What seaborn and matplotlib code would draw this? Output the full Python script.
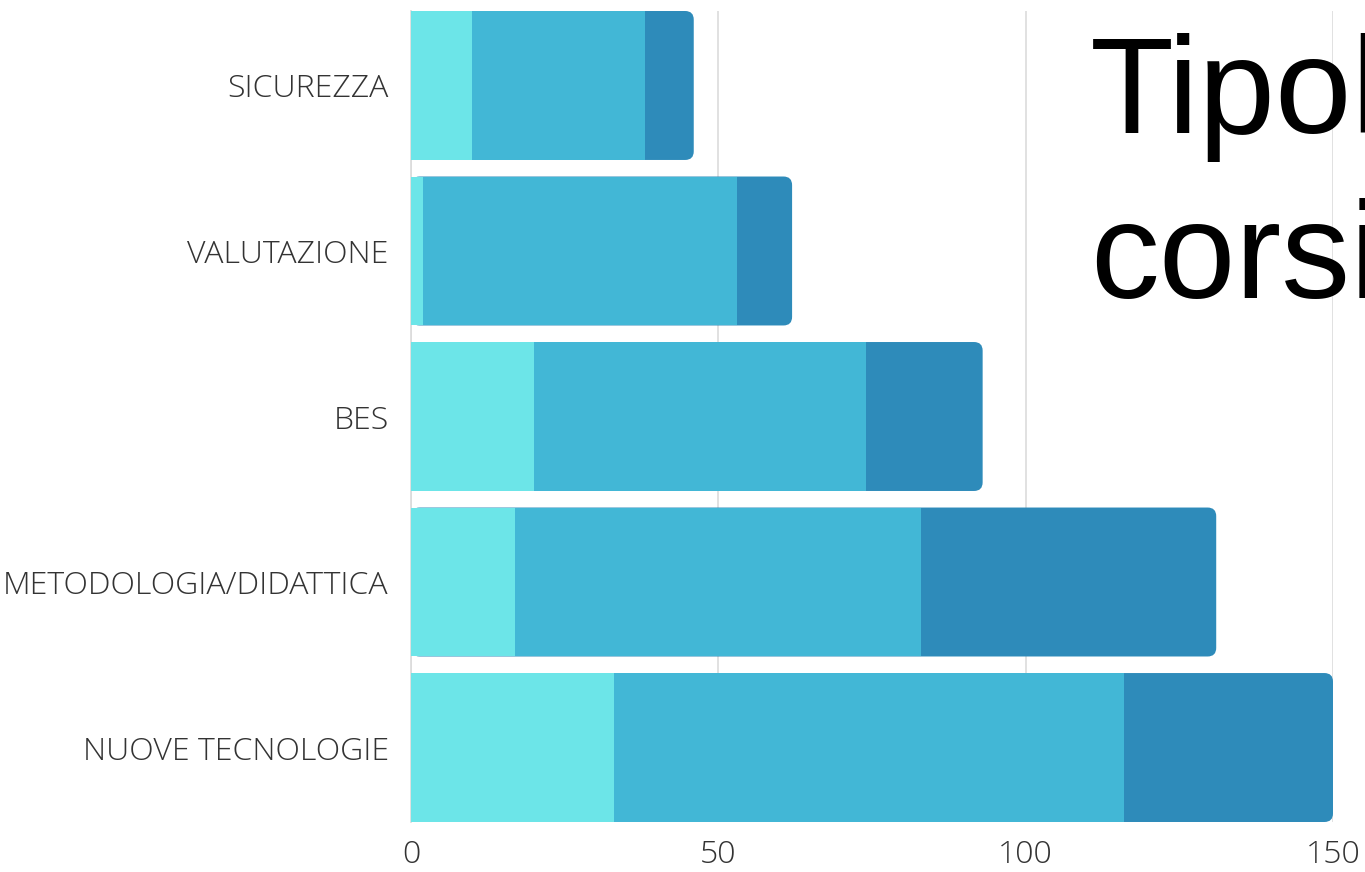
import matplotlib
matplotlib.use("Agg")
import matplotlib.pyplot as plt
import seaborn as sns
from matplotlib.patches import FancyBboxPatch

# dati
categorie = ['SICUREZZA', 'VALUTAZIONE', 'BES', 'METODOLOGIA/DIDATTICA', 'NUOVE TECNOLOGIE']
serie_1 = [10, 2, 20, 17, 33]
serie_2 = [28, 51, 54, 66, 83]
serie_3 = [8, 9, 19, 48, 34]
tick_x = [0, 50, 100, 150]

colori = ['#6ce5e8', '#42b7d6', '#2e8bba']

cum_1 = serie_1
cum_2 = [a + b for a, b in zip(serie_1, serie_2)]
cum_3 = [a + b + c for a, b, c in zip(serie_1, serie_2, serie_3)]

sns.set_theme(style='white')
plt.rcParams['font.family'] = ['Open Sans', 'DejaVu Sans']

fig = plt.figure(figsize=(13.65, 8.72), dpi=100)
ax = fig.add_axes([411 / 1365, 1 - 822 / 872, 922 / 1365, 811 / 872])

for x in tick_x:
    ax.axvline(x, color='#dcdcdc', lw=1.2, zorder=0)

# totale (barra scura, angoli arrotondati a destra)
sns.barplot(x=cum_3, y=categorie, color=colori[2], orient='h', width=0.9,
            saturation=1, linewidth=0, ax=ax)
n = len(categorie)
aspect = (811 / 4.9) / (922 / 150)
for p in list(ax.patches)[:n]:
    x0, y0, w, h = p.get_x(), p.get_y(), p.get_width(), p.get_height()
    p.remove()
    r = FancyBboxPatch((x0, y0), w, h, boxstyle='round,pad=0,rounding_size=1.4',
                       mutation_aspect=1 / aspect, fc=colori[2], ec='none', zorder=2)
    ax.add_patch(r)

sns.barplot(x=cum_2, y=categorie, color=colori[1], orient='h', width=0.9,
            saturation=1, linewidth=0, ax=ax)
sns.barplot(x=cum_1, y=categorie, color=colori[0], orient='h', width=0.9,
            saturation=1, linewidth=0, ax=ax)
for p in ax.patches:
    if not isinstance(p, FancyBboxPatch):
        p.set_zorder(3)

ax.set_xlim(0, 150)
ax.set_ylim(4.45, -0.45)
ax.set_xticks(tick_x)
ax.set_xticklabels([str(t) for t in tick_x])
ax.set_xlabel('')
ax.set_ylabel('')
ax.tick_params(axis='y', length=0, pad=16, labelsize=23, labelcolor='#333333')
ax.tick_params(axis='x', length=0, pad=12, labelsize=23, labelcolor='#333333')
for lab in ax.get_xticklabels() + ax.get_yticklabels():
    lab.set_fontweight('light')
for s in ['top', 'right', 'bottom']:
    ax.spines[s].set_visible(False)
ax.spines['left'].set_color('#dcdcdc')
ax.spines['left'].set_zorder(0)

# titolo (tagliato dal bordo destro come nell'originale)
titolo = ['Tipologia', 'corsi']
for i, riga in enumerate(titolo):
    fig.text(1090 / 1365, 1 - (133 + 165 * i) / 872, riga, fontsize=99,
             family=['Liberation Sans', 'DejaVu Sans'], color='black',
             ha='left', va='baseline')

fig.savefig('out.png', dpi=100, facecolor='white')
